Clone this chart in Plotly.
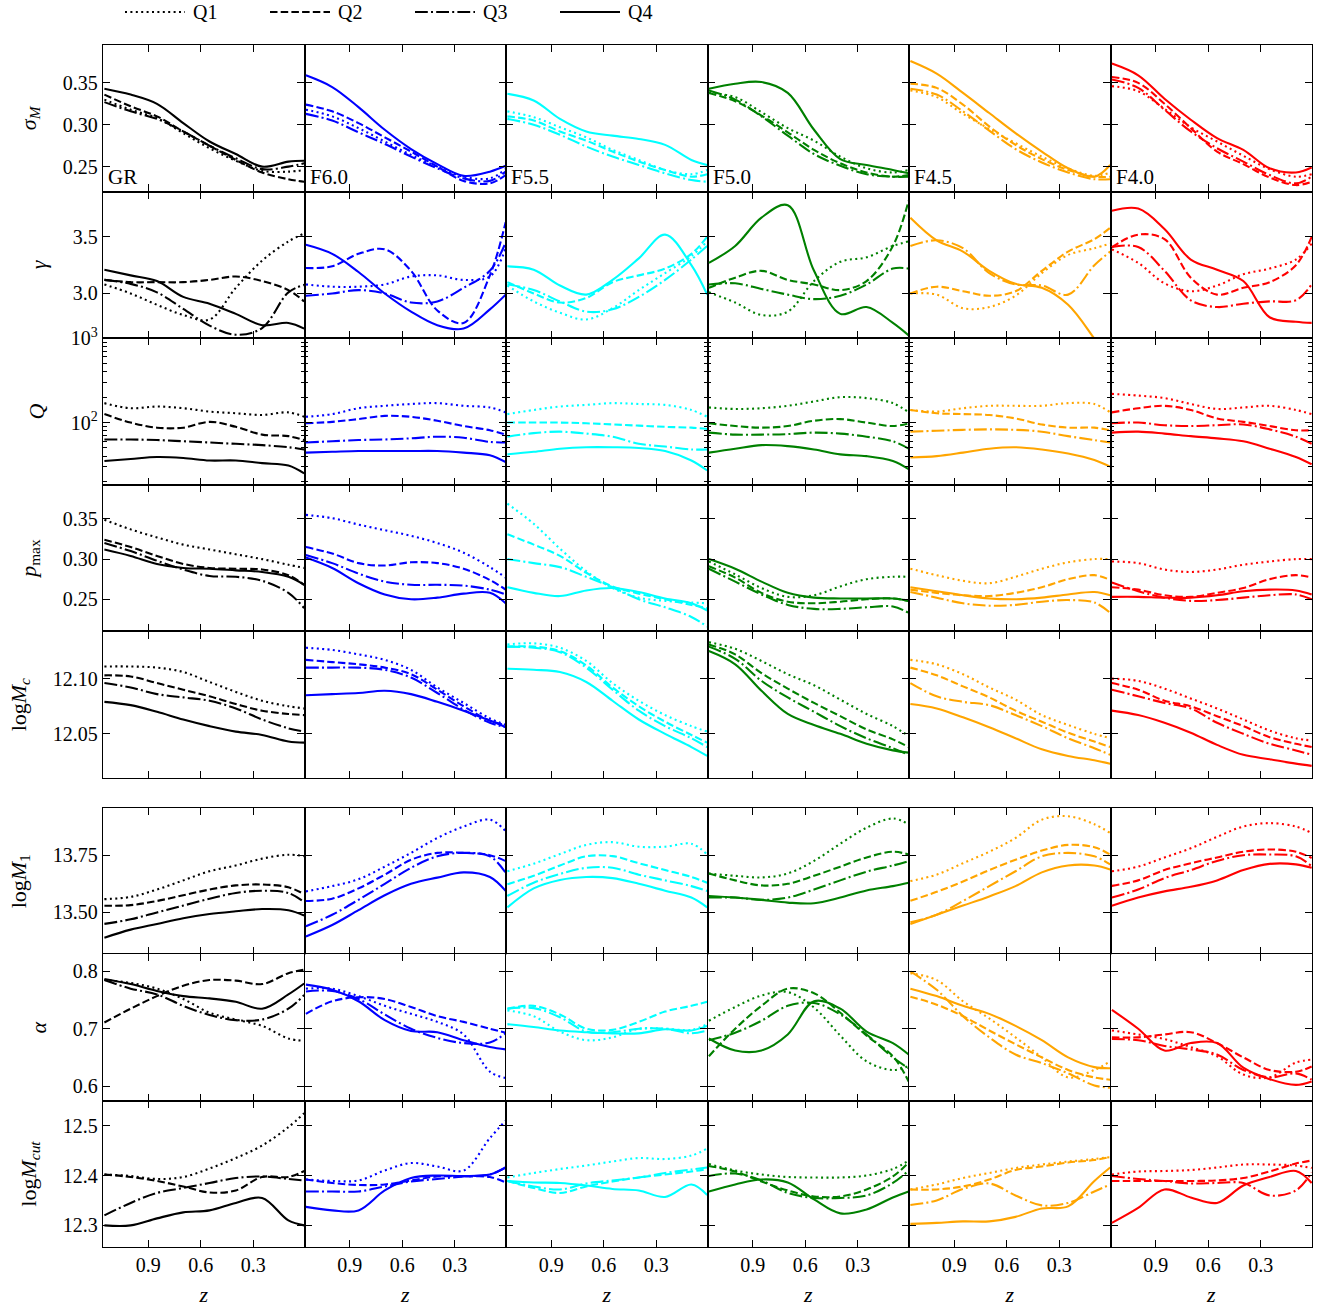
import plotly.graph_objects as go

W, H = 1325, 1309
Z = [1.15, 1.0, 0.85, 0.7, 0.55, 0.4, 0.25, 0.1, 0.01]
MODELS = ["GR", "F6.0", "F5.5", "F5.0", "F4.5", "F4.0"]
COLORS = ["#000000", "#0000ff", "#00ffff", "#008000", "#ffa500", "#ff0000"]
QUARTILES = ["Q1", "Q2", "Q3", "Q4"]
DASHES = ["2px,3.4px", "7.5px,3.2px", "12.8px,3.2px,2px,3.2px", "solid"]

# ---------------- sigma_M ----------------
sigmaM_GR = [[0.330, 0.318, 0.308, 0.290, 0.272, 0.257, 0.245, 0.244, 0.246],
             [0.336, 0.322, 0.310, 0.292, 0.275, 0.258, 0.243, 0.235, 0.232],
             [0.327, 0.316, 0.307, 0.292, 0.275, 0.260, 0.247, 0.250, 0.254],
             [0.343, 0.336, 0.325, 0.302, 0.280, 0.265, 0.250, 0.256, 0.257]]
sigmaM_F60 = [[0.318, 0.310, 0.296, 0.280, 0.264, 0.250, 0.238, 0.236, 0.247],
              [0.324, 0.316, 0.302, 0.285, 0.268, 0.250, 0.233, 0.230, 0.240],
              [0.313, 0.305, 0.291, 0.277, 0.262, 0.248, 0.236, 0.233, 0.244],
              [0.359, 0.345, 0.321, 0.294, 0.271, 0.253, 0.239, 0.244, 0.251]]
sigmaM_F55 = [[0.316, 0.309, 0.297, 0.285, 0.270, 0.258, 0.246, 0.241, 0.246],
              [0.310, 0.305, 0.292, 0.281, 0.268, 0.256, 0.246, 0.238, 0.241],
              [0.307, 0.300, 0.288, 0.274, 0.262, 0.252, 0.242, 0.234, 0.232],
              [0.337, 0.329, 0.307, 0.292, 0.287, 0.283, 0.276, 0.258, 0.252]]
sigmaM_F50 = [[0.338, 0.333, 0.315, 0.296, 0.281, 0.262, 0.248, 0.243, 0.246],
              [0.338, 0.328, 0.311, 0.291, 0.270, 0.254, 0.243, 0.238, 0.240],
              [0.341, 0.330, 0.310, 0.287, 0.265, 0.251, 0.241, 0.238, 0.238],
              [0.343, 0.349, 0.351, 0.338, 0.294, 0.259, 0.252, 0.246, 0.242]]
sigmaM_F45 = [[0.341, 0.333, 0.313, 0.295, 0.278, 0.262, 0.248, 0.239, 0.243],
              [0.349, 0.344, 0.324, 0.298, 0.276, 0.259, 0.246, 0.238, 0.238],
              [0.343, 0.336, 0.316, 0.293, 0.271, 0.255, 0.243, 0.235, 0.235],
              [0.376, 0.361, 0.338, 0.314, 0.290, 0.268, 0.248, 0.238, 0.252]]
sigmaM_F40 = [[0.346, 0.340, 0.319, 0.297, 0.280, 0.263, 0.247, 0.238, 0.241],
              [0.357, 0.350, 0.325, 0.296, 0.268, 0.253, 0.237, 0.228, 0.232],
              [0.354, 0.344, 0.318, 0.292, 0.272, 0.256, 0.240, 0.230, 0.238],
              [0.373, 0.359, 0.331, 0.306, 0.284, 0.270, 0.248, 0.243, 0.249]]

# ---------------- gamma ----------------
gamma_GR = [[3.08, 3.00, 2.90, 2.81, 2.77, 3.05, 3.29, 3.46, 3.53],
            [3.12, 3.10, 3.10, 3.10, 3.12, 3.15, 3.11, 3.03, 2.93],
            [3.12, 3.085, 3.01, 2.864, 2.716, 2.636, 2.695, 3.01, 3.076],
            [3.21, 3.16, 3.11, 2.97, 2.91, 2.82, 2.72, 2.74, 2.69]]
gamma_F60 = [[3.08, 3.06, 3.06, 3.08, 3.15, 3.16, 3.12, 3.15, 3.40],
             [3.225, 3.24, 3.35, 3.39, 3.20, 2.85, 2.74, 3.16, 3.63],
             [2.98, 3.00, 3.03, 3.00, 2.92, 2.93, 3.05, 3.20, 3.45],
             [3.43, 3.35, 3.19, 3.00, 2.84, 2.72, 2.69, 2.86, 2.99]]
gamma_F55 = [[3.07, 2.93, 2.83, 2.77, 2.87, 3.03, 3.18, 3.33, 3.46],
             [3.10, 3.00, 2.92, 2.96, 3.10, 3.16, 3.22, 3.35, 3.50],
             [3.08, 3.03, 2.93, 2.84, 2.86, 2.97, 3.12, 3.30, 3.42],
             [3.24, 3.21, 3.07, 2.99, 3.12, 3.31, 3.52, 3.25, 2.99]]
gamma_F50 = [[3.01, 2.92, 2.81, 2.84, 3.11, 3.28, 3.32, 3.42, 3.46],
             [3.05, 3.14, 3.20, 3.12, 3.08, 3.03, 3.11, 3.42, 3.82],
             [3.08, 3.09, 3.04, 2.99, 2.95, 2.98, 3.08, 3.22, 3.22],
             [3.27, 3.42, 3.67, 3.78, 3.20, 2.82, 2.88, 2.74, 2.63]]
gamma_F45 = [[3.00, 2.99, 2.87, 2.88, 2.98, 3.18, 3.34, 3.40, 3.44],
             [3.00, 3.06, 3.02, 2.98, 3.02, 3.20, 3.37, 3.48, 3.58],
             [3.42, 3.47, 3.40, 3.18, 3.08, 3.07, 2.99, 3.25, 3.37],
             [3.67, 3.47, 3.37, 3.20, 3.085, 3.05, 2.90, 2.60, 2.40]]
gamma_F40 = [[3.39, 3.27, 3.09, 3.02, 3.07, 3.17, 3.22, 3.30, 3.44],
             [3.41, 3.52, 3.48, 3.14, 2.99, 3.05, 3.10, 3.25, 3.50],
             [3.41, 3.41, 3.20, 2.94, 2.88, 2.91, 2.93, 2.94, 3.08],
             [3.73, 3.75, 3.57, 3.30, 3.21, 3.11, 2.79, 2.75, 2.74]]

# ---------------- Q ----------------
Q_GR = [[170, 148, 155, 148, 135, 129, 123, 132, 117],
        [126, 100, 87, 87, 102, 89, 72, 69, 62],
        [63, 63, 62, 60, 58, 56, 54, 51, 48],
        [35, 37, 39, 38, 35.5, 35.5, 33, 31, 25]]
Q_F60 = [[117, 126, 148, 158, 166, 170, 158, 151, 132],
         [98, 102, 110, 120, 117, 105, 91, 81, 72],
         [58, 60, 62, 63, 65, 68, 66, 59, 58],
         [44, 45, 46, 46, 46, 46, 44, 41, 34]]
Q_F55 = [[126, 141, 155, 162, 170, 166, 162, 141, 117],
         [100, 100, 100, 98, 95, 92, 89, 87, 84],
         [68, 75, 78, 74, 68, 56, 52, 48, 48],
         [42, 45, 49, 51, 51, 50, 46, 35.5, 27]]
Q_F50 = [[151, 145, 148, 158, 178, 200, 195, 170, 132],
         [98, 91, 87, 91, 105, 110, 100, 91, 98],
         [76, 72, 72, 73, 76, 74, 68, 60, 49],
         [44, 49, 54, 52.5, 48, 42, 40, 35, 28]]
Q_F45 = [[141, 135, 148, 158, 158, 158, 170, 166, 132],
         [141, 129, 126, 123, 112, 95, 87, 87, 81],
         [78, 80, 82, 83, 82, 78, 69, 62, 58],
         [38.5, 40, 44, 49, 51, 48, 43, 36, 30]]
Q_F40 = [[219, 209, 195, 166, 145, 151, 158, 141, 126],
         [132, 148, 158, 141, 112, 102, 91, 81, 81],
         [98, 100, 93, 91, 93, 95, 83, 68, 56],
         [76, 78, 74, 69, 65, 60, 49, 39, 32]]

# ---------------- p_max ----------------
pmax_GR = [[0.349, 0.337, 0.327, 0.318, 0.312, 0.306, 0.300, 0.293, 0.289],
           [0.324, 0.315, 0.304, 0.294, 0.289, 0.288, 0.287, 0.280, 0.268],
           [0.320, 0.310, 0.298, 0.287, 0.279, 0.278, 0.273, 0.258, 0.239],
           [0.312, 0.304, 0.294, 0.289, 0.288, 0.286, 0.284, 0.278, 0.268]]
pmax_F60 = [[0.355, 0.351, 0.343, 0.336, 0.329, 0.320, 0.308, 0.290, 0.277],
            [0.315, 0.307, 0.295, 0.292, 0.296, 0.295, 0.288, 0.274, 0.262],
            [0.305, 0.295, 0.282, 0.272, 0.268, 0.268, 0.267, 0.262, 0.256],
            [0.302, 0.289, 0.270, 0.256, 0.250, 0.252, 0.257, 0.258, 0.245]]
pmax_F55 = [[0.369, 0.344, 0.313, 0.285, 0.264, 0.252, 0.248, 0.246, 0.245],
            [0.331, 0.318, 0.304, 0.283, 0.266, 0.257, 0.250, 0.243, 0.239],
            [0.300, 0.295, 0.290, 0.278, 0.265, 0.250, 0.240, 0.228, 0.216],
            [0.265, 0.258, 0.254, 0.261, 0.264, 0.259, 0.251, 0.245, 0.236]]
pmax_F50 = [[0.297, 0.281, 0.264, 0.253, 0.255, 0.266, 0.275, 0.278, 0.278],
            [0.291, 0.277, 0.258, 0.247, 0.245, 0.247, 0.250, 0.251, 0.248],
            [0.288, 0.272, 0.256, 0.243, 0.238, 0.238, 0.240, 0.241, 0.233],
            [0.300, 0.288, 0.272, 0.258, 0.252, 0.251, 0.251, 0.251, 0.248]]
pmax_F45 = [[0.288, 0.280, 0.273, 0.270, 0.278, 0.288, 0.296, 0.300, 0.300],
            [0.262, 0.258, 0.255, 0.254, 0.258, 0.265, 0.275, 0.280, 0.274],
            [0.259, 0.252, 0.245, 0.242, 0.243, 0.247, 0.249, 0.246, 0.233],
            [0.265, 0.260, 0.255, 0.251, 0.250, 0.252, 0.256, 0.259, 0.255]]
pmax_F40 = [[0.297, 0.295, 0.287, 0.284, 0.287, 0.293, 0.297, 0.300, 0.300],
            [0.265, 0.262, 0.255, 0.253, 0.258, 0.264, 0.275, 0.280, 0.277],
            [0.271, 0.260, 0.252, 0.248, 0.249, 0.252, 0.255, 0.256, 0.250],
            [0.253, 0.253, 0.252, 0.252, 0.255, 0.260, 0.262, 0.261, 0.256]]

# ---------------- log M_c ----------------
logMc_GR = [[12.111, 12.111, 12.110, 12.106, 12.097, 12.088, 12.080, 12.075, 12.073],
            [12.103, 12.102, 12.096, 12.090, 12.084, 12.077, 12.071, 12.068, 12.067],
            [12.096, 12.092, 12.086, 12.083, 12.080, 12.073, 12.063, 12.055, 12.052],
            [12.079, 12.076, 12.070, 12.063, 12.057, 12.052, 12.049, 12.043, 12.042]]
logMc_F60 = [[12.128, 12.126, 12.122, 12.117, 12.108, 12.092, 12.078, 12.064, 12.058],
             [12.117, 12.115, 12.113, 12.110, 12.104, 12.090, 12.075, 12.062, 12.058],
             [12.110, 12.110, 12.110, 12.108, 12.101, 12.087, 12.072, 12.060, 12.056],
             [12.085, 12.086, 12.087, 12.089, 12.086, 12.079, 12.071, 12.062, 12.056]]
logMc_F55 = [[12.131, 12.132, 12.128, 12.116, 12.096, 12.080, 12.067, 12.057, 12.052],
             [12.129, 12.129, 12.125, 12.112, 12.092, 12.075, 12.061, 12.049, 12.042],
             [12.129, 12.128, 12.124, 12.110, 12.090, 12.071, 12.057, 12.046, 12.038],
             [12.109, 12.108, 12.106, 12.097, 12.080, 12.063, 12.050, 12.038, 12.030]]
logMc_F50 = [[12.133, 12.127, 12.116, 12.104, 12.094, 12.081, 12.068, 12.057, 12.048],
             [12.131, 12.122, 12.105, 12.091, 12.078, 12.066, 12.054, 12.045, 12.038],
             [12.129, 12.118, 12.098, 12.083, 12.070, 12.057, 12.046, 12.037, 12.031],
             [12.125, 12.113, 12.089, 12.068, 12.058, 12.050, 12.041, 12.035, 12.033]]
logMc_F45 = [[12.117, 12.113, 12.104, 12.092, 12.081, 12.067, 12.058, 12.050, 12.046],
             [12.110, 12.103, 12.093, 12.083, 12.071, 12.061, 12.051, 12.043, 12.038],
             [12.096, 12.084, 12.079, 12.076, 12.067, 12.057, 12.046, 12.037, 12.031],
             [12.077, 12.073, 12.065, 12.056, 12.046, 12.036, 12.030, 12.026, 12.023]]
logMc_F40 = [[12.100, 12.098, 12.091, 12.082, 12.073, 12.063, 12.053, 12.046, 12.044],
             [12.096, 12.090, 12.080, 12.075, 12.066, 12.057, 12.047, 12.041, 12.038],
             [12.090, 12.084, 12.078, 12.073, 12.060, 12.050, 12.041, 12.035, 12.031],
             [12.071, 12.067, 12.060, 12.051, 12.040, 12.031, 12.027, 12.023, 12.021]]

# ---------------- log M_1 ----------------
logM1_GR = [[13.558, 13.568, 13.600, 13.640, 13.680, 13.705, 13.735, 13.752, 13.746],
            [13.529, 13.532, 13.550, 13.575, 13.600, 13.618, 13.622, 13.610, 13.580],
            [13.450, 13.470, 13.500, 13.530, 13.560, 13.585, 13.595, 13.585, 13.545],
            [13.390, 13.425, 13.450, 13.475, 13.493, 13.505, 13.515, 13.510, 13.487]]
logM1_F60 = [[13.592, 13.615, 13.645, 13.700, 13.760, 13.825, 13.875, 13.905, 13.855],
             [13.550, 13.560, 13.605, 13.665, 13.730, 13.760, 13.760, 13.750, 13.724],
             [13.440, 13.490, 13.555, 13.625, 13.695, 13.745, 13.760, 13.745, 13.673],
             [13.395, 13.445, 13.510, 13.575, 13.625, 13.652, 13.675, 13.655, 13.594]]
logM1_F55 = [[13.680, 13.713, 13.755, 13.795, 13.807, 13.787, 13.787, 13.800, 13.753],
             [13.623, 13.660, 13.705, 13.745, 13.746, 13.715, 13.685, 13.655, 13.630],
             [13.572, 13.630, 13.668, 13.695, 13.695, 13.665, 13.640, 13.615, 13.594],
             [13.522, 13.605, 13.642, 13.655, 13.650, 13.625, 13.595, 13.565, 13.522]]
logM1_F50 = [[13.670, 13.660, 13.653, 13.670, 13.725, 13.800, 13.870, 13.910, 13.885],
             [13.670, 13.640, 13.618, 13.625, 13.660, 13.700, 13.740, 13.765, 13.753],
             [13.565, 13.565, 13.555, 13.565, 13.600, 13.640, 13.678, 13.705, 13.724],
             [13.572, 13.565, 13.555, 13.543, 13.540, 13.565, 13.596, 13.615, 13.630]]
logM1_F45 = [[13.637, 13.665, 13.715, 13.765, 13.825, 13.905, 13.920, 13.885, 13.847],
             [13.551, 13.590, 13.635, 13.685, 13.730, 13.770, 13.795, 13.785, 13.753],
             [13.457, 13.490, 13.550, 13.615, 13.680, 13.745, 13.760, 13.745, 13.710],
             [13.449, 13.490, 13.530, 13.570, 13.615, 13.675, 13.705, 13.705, 13.688]]
logM1_F40 = [[13.680, 13.700, 13.740, 13.780, 13.830, 13.875, 13.890, 13.875, 13.847],
             [13.616, 13.640, 13.685, 13.715, 13.740, 13.765, 13.775, 13.765, 13.738],
             [13.565, 13.600, 13.650, 13.685, 13.725, 13.750, 13.753, 13.745, 13.702],
             [13.529, 13.565, 13.592, 13.612, 13.640, 13.685, 13.712, 13.710, 13.695]]

# ---------------- alpha ----------------
alpha_GR = [[0.785, 0.780, 0.770, 0.752, 0.728, 0.716, 0.705, 0.683, 0.679],
            [0.711, 0.735, 0.757, 0.775, 0.785, 0.784, 0.778, 0.797, 0.803],
            [0.785, 0.770, 0.760, 0.740, 0.724, 0.715, 0.716, 0.735, 0.759],
            [0.787, 0.778, 0.766, 0.757, 0.753, 0.747, 0.735, 0.760, 0.779]]
alpha_F60 = [[0.770, 0.770, 0.757, 0.740, 0.726, 0.712, 0.690, 0.625, 0.614],
             [0.726, 0.748, 0.755, 0.752, 0.738, 0.722, 0.712, 0.700, 0.693],
             [0.765, 0.766, 0.752, 0.725, 0.700, 0.684, 0.675, 0.676, 0.692],
             [0.777, 0.768, 0.748, 0.715, 0.696, 0.694, 0.680, 0.668, 0.664]]
alpha_F55 = [[0.732, 0.722, 0.695, 0.680, 0.685, 0.700, 0.700, 0.698, 0.708],
             [0.735, 0.740, 0.725, 0.700, 0.698, 0.712, 0.730, 0.740, 0.747],
             [0.735, 0.736, 0.720, 0.695, 0.694, 0.700, 0.700, 0.692, 0.697],
             [0.708, 0.703, 0.697, 0.694, 0.692, 0.692, 0.699, 0.697, 0.705]]
alpha_F50 = [[0.714, 0.738, 0.758, 0.764, 0.737, 0.688, 0.643, 0.628, 0.635],
             [0.652, 0.700, 0.740, 0.770, 0.762, 0.728, 0.688, 0.652, 0.608],
             [0.680, 0.693, 0.714, 0.740, 0.745, 0.725, 0.690, 0.650, 0.631],
             [0.683, 0.662, 0.662, 0.690, 0.748, 0.735, 0.695, 0.675, 0.655]]
alpha_F45 = [[0.797, 0.785, 0.748, 0.718, 0.685, 0.650, 0.615, 0.628, 0.643],
             [0.756, 0.742, 0.722, 0.697, 0.673, 0.650, 0.628, 0.615, 0.611],
             [0.800, 0.768, 0.722, 0.685, 0.655, 0.640, 0.622, 0.601, 0.597],
             [0.770, 0.757, 0.740, 0.726, 0.705, 0.680, 0.650, 0.633, 0.631]]
alpha_F40 = [[0.697, 0.690, 0.682, 0.668, 0.652, 0.620, 0.615, 0.641, 0.646],
             [0.685, 0.685, 0.690, 0.694, 0.675, 0.650, 0.628, 0.625, 0.634],
             [0.682, 0.680, 0.670, 0.664, 0.655, 0.628, 0.615, 0.622, 0.611],
             [0.733, 0.700, 0.662, 0.675, 0.675, 0.632, 0.612, 0.602, 0.608]]

# ---------------- log M_cut ----------------
logMcut_GR = [[12.402, 12.399, 12.393, 12.397, 12.414, 12.435, 12.460, 12.497, 12.525],
              [12.402, 12.397, 12.389, 12.378, 12.366, 12.370, 12.397, 12.397, 12.409],
              [12.320, 12.345, 12.365, 12.375, 12.385, 12.395, 12.398, 12.393, 12.390],
              [12.300, 12.300, 12.314, 12.326, 12.330, 12.345, 12.355, 12.310, 12.300]]
logMcut_F60 = [[12.392, 12.389, 12.390, 12.410, 12.425, 12.418, 12.410, 12.475, 12.510],
               [12.392, 12.385, 12.381, 12.382, 12.390, 12.398, 12.398, 12.397, 12.386],
               [12.368, 12.368, 12.368, 12.378, 12.388, 12.393, 12.398, 12.402, 12.416],
               [12.337, 12.330, 12.330, 12.370, 12.395, 12.400, 12.399, 12.402, 12.416]]
logMcut_F55 = [[12.396, 12.405, 12.413, 12.420, 12.428, 12.435, 12.433, 12.440, 12.454],
               [12.389, 12.375, 12.365, 12.378, 12.388, 12.396, 12.402, 12.408, 12.413],
               [12.389, 12.378, 12.372, 12.384, 12.390, 12.396, 12.405, 12.412, 12.416],
               [12.389, 12.386, 12.385, 12.380, 12.373, 12.370, 12.357, 12.382, 12.361]]
logMcut_F50 = [[12.423, 12.410, 12.402, 12.397, 12.396, 12.396, 12.400, 12.413, 12.430],
               [12.419, 12.408, 12.388, 12.370, 12.358, 12.358, 12.372, 12.398, 12.426],
               [12.399, 12.404, 12.390, 12.365, 12.355, 12.355, 12.360, 12.385, 12.410],
               [12.368, 12.382, 12.392, 12.386, 12.352, 12.324, 12.332, 12.356, 12.368]]
logMcut_F45 = [[12.372, 12.382, 12.395, 12.405, 12.415, 12.422, 12.428, 12.433, 12.437],
               [12.372, 12.372, 12.378, 12.392, 12.411, 12.418, 12.426, 12.431, 12.437],
               [12.341, 12.350, 12.373, 12.384, 12.360, 12.340, 12.345, 12.368, 12.382],
               [12.303, 12.305, 12.308, 12.308, 12.317, 12.334, 12.338, 12.389, 12.416]]
logMcut_F40 = [[12.402, 12.408, 12.409, 12.411, 12.416, 12.422, 12.422, 12.420, 12.415],
               [12.389, 12.389, 12.389, 12.389, 12.390, 12.395, 12.408, 12.424, 12.430],
               [12.399, 12.393, 12.389, 12.384, 12.385, 12.385, 12.360, 12.370, 12.406],
               [12.305, 12.335, 12.372, 12.356, 12.345, 12.380, 12.397, 12.409, 12.385]]

# ---------------- row settings ----------------
ROW_LABELS = ["<i>σ<sub>M</sub></i>", "<i>γ</i>", "<i>Q</i>", "<i>p</i><sub>max</sub>",
              "log<i>M<sub>c</sub></i>", "log<i>M</i><sub>1</sub>", "<i>α</i>",
              "log<i>M<sub>cut</sub></i>"]
ROW_RANGES = [[0.2202, 0.3952], [2.605, 3.90], [1.262, 3.0005], [0.21, 0.3925],
              [12.010, 12.1428], [13.316, 13.956], [0.574, 0.830], [12.256, 12.55]]
ROW_TICKS = [[0.25, 0.30, 0.35], [3.0, 3.5], [100, 1000], [0.25, 0.30, 0.35],
             [12.05, 12.10], [13.50, 13.75], [0.6, 0.7, 0.8], [12.3, 12.4, 12.5]]
ROW_TICKTEXT = [["0.25", "0.30", "0.35"], ["3.0", "3.5"], ["10<sup>2</sup>", "10<sup>3</sup>"],
                ["0.25", "0.30", "0.35"], ["12.05", "12.10"], ["13.50", "13.75"],
                ["0.6", "0.7", "0.8"], ["12.3", "12.4", "12.5"]]
X_TICKS = [0.9, 0.6, 0.3]

TABLE = [
    [sigmaM_GR, sigmaM_F60, sigmaM_F55, sigmaM_F50, sigmaM_F45, sigmaM_F40],
    [gamma_GR, gamma_F60, gamma_F55, gamma_F50, gamma_F45, gamma_F40],
    [Q_GR, Q_F60, Q_F55, Q_F50, Q_F45, Q_F40],
    [pmax_GR, pmax_F60, pmax_F55, pmax_F50, pmax_F45, pmax_F40],
    [logMc_GR, logMc_F60, logMc_F55, logMc_F50, logMc_F45, logMc_F40],
    [logM1_GR, logM1_F60, logM1_F55, logM1_F50, logM1_F45, logM1_F40],
    [alpha_GR, alpha_F60, alpha_F55, alpha_F50, alpha_F45, alpha_F40],
    [logMcut_GR, logMcut_F60, logMcut_F55, logMcut_F50, logMcut_F45, logMcut_F40],
]

# ---------------- geometry (pixels) ----------------
COL_LEFT, COL_W = 103.0, 201.5
ROW_TOPS = [45.0, 191.6, 338.2, 484.8, 631.4, 808.0, 954.3, 1100.7]
ROW_H = 146.6
FONT = "Liberation Serif, Times New Roman, DejaVu Serif, serif"

fig = go.Figure()
layout = dict(width=W, height=H, margin=dict(l=0, r=0, t=0, b=0, pad=0, autoexpand=False),
              paper_bgcolor="white", plot_bgcolor="white", showlegend=False,
              font=dict(family=FONT, size=20, color="black"))

nrows, ncols = len(TABLE), len(MODELS)
for r in range(nrows):
    for c in range(ncols):
        k = r * ncols + c + 1
        xs = "" if k == 1 else str(k)
        x0 = (COL_LEFT + c * COL_W) / W
        x1 = (COL_LEFT + (c + 1) * COL_W) / W
        y1 = 1 - ROW_TOPS[r] / H
        y0 = 1 - (ROW_TOPS[r] + ROW_H) / H
        common = dict(showline=True, linecolor="black", linewidth=1.3, mirror="ticks",
                      ticks="inside", ticklen=7, tickwidth=1.2, tickcolor="black",
                      showgrid=False, zeroline=False, automargin=False,
                      tickfont=dict(family=FONT, size=20, color="black"))
        xa = dict(common, domain=[x0, x1], range=[1.158, 0.008], tickmode="array",
                  tickvals=X_TICKS, ticktext=["0.9", "0.6", "0.3"],
                  showticklabels=(r == nrows - 1), anchor="y" + xs)
        if r == nrows - 1:
            xa["title"] = dict(text="<i>z</i>", font=dict(family=FONT, size=22), standoff=11)
        ya = dict(common, domain=[y0, y1], range=ROW_RANGES[r], tickmode="array",
                  tickvals=ROW_TICKS[r], ticktext=ROW_TICKTEXT[r],
                  showticklabels=(c == 0), anchor="x" + xs)
        if r == 2:
            ya["type"] = "log"
            ya["minor"] = dict(ticks="inside", ticklen=3.5, tickwidth=1, tickcolor="black",
                               tickvals=[20, 30, 40, 50, 60, 70, 80, 90,
                                         200, 300, 400, 500, 600, 700, 800, 900],
                               showgrid=False)
        if c == 0:
            ya["title"] = dict(text=ROW_LABELS[r], font=dict(family=FONT, size=22), standoff=20)
        layout["xaxis" + xs] = xa
        layout["yaxis" + xs] = ya

        series = TABLE[r][c]
        for q in range(4):
            fig.add_trace(go.Scatter(
                x=Z, y=series[q], mode="lines", name=f"{MODELS[c]} {QUARTILES[q]}",
                line=dict(color=COLORS[c], width=2.1, dash=DASHES[q],
                          shape="spline", smoothing=1.0),
                xaxis="x" + xs, yaxis="y" + xs, hoverinfo="skip", showlegend=False))

# panel labels
annotations = []
for c, m in enumerate(MODELS):
    annotations.append(dict(text=m, xref="paper", yref="paper",
                            x=(COL_LEFT + c * COL_W + 3) / W, y=1 - 191.0 / H,
                            xanchor="left", yanchor="bottom", showarrow=False,
                            font=dict(family=FONT, size=21, color="black")))

# legend (drawn at top)
shapes = []
LEG_X = [125, 270, 415, 560]
for q in range(4):
    shapes.append(dict(type="line", xref="paper", yref="paper",
                       x0=LEG_X[q] / W, x1=(LEG_X[q] + 60) / W,
                       y0=1 - 12.0 / H, y1=1 - 12.0 / H,
                       line=dict(color="black", width=2.1, dash=DASHES[q])))
    annotations.append(dict(text=QUARTILES[q], xref="paper", yref="paper",
                            x=(LEG_X[q] + 66) / W, y=1 - 12.0 / H,
                            xanchor="left", yanchor="middle", showarrow=False,
                            font=dict(family=FONT, size=20, color="black")))

layout["annotations"] = annotations
layout["shapes"] = shapes
fig.update_layout(**layout)
fig.write_html("out.html")
